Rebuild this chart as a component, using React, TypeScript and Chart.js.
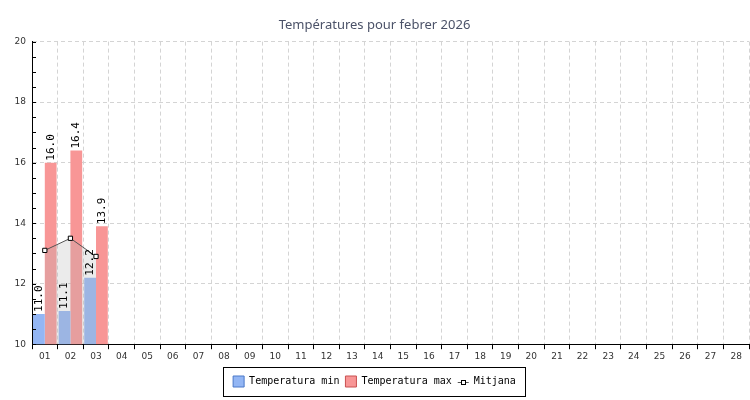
import React, { useEffect, useRef } from "react";
import { Chart, registerables } from "chart.js";

Chart.register(...registerables);

const TITLE = "Températures pour febrer 2026";
const DAYS = ["01","02","03","04","05","06","07","08","09","10","11","12","13","14","15","16","17","18","19","20","21","22","23","24","25","26","27","28"];
const TEMP_MIN = [11.0, 11.1, 12.2, null, null, null, null, null, null, null, null, null, null, null, null, null, null, null, null, null, null, null, null, null, null, null, null, null];
const TEMP_MAX = [16.0, 16.4, 13.9, null, null, null, null, null, null, null, null, null, null, null, null, null, null, null, null, null, null, null, null, null, null, null, null, null];
const TEMP_MEAN = [13.1, 13.5, 12.9, null, null, null, null, null, null, null, null, null, null, null, null, null, null, null, null, null, null, null, null, null, null, null, null, null];
const Y_MIN = 10;
const Y_MAX = 20;
const Y_STEP = 2;
const Y_MINOR = 0.5;

const MONO = "'DejaVu Sans Mono', monospace";

const extrasPlugin = {
  id: "extras",
  afterDatasetsDraw(chart: any) {
    const ctx = chart.ctx;
    ctx.save();
    ctx.font = "11px " + MONO;
    ctx.fillStyle = "#000";
    ctx.textAlign = "left";
    ctx.textBaseline = "middle";
    [0, 1].forEach((di) => {
      const meta = chart.getDatasetMeta(di);
      const data = chart.data.datasets[di].data;
      meta.data.forEach((el: any, i: number) => {
        const v = data[i];
        if (v === null || v === undefined) return;
        ctx.save();
        ctx.translate(el.x, el.y - 2);
        ctx.rotate(-Math.PI / 2);
        ctx.fillText(Number(v).toFixed(1), 0, 0);
        ctx.restore();
      });
    });
    ctx.restore();
  },
  afterDraw(chart: any) {
    const ctx = chart.ctx;
    const y = chart.scales.y;
    const area = chart.chartArea;
    ctx.save();
    ctx.strokeStyle = "#000";
    ctx.lineWidth = 1;
    for (let v = Y_MIN; v <= Y_MAX + 1e-9; v += Y_MINOR) {
      const py = Math.round(y.getPixelForValue(v)) + 0.5;
      ctx.beginPath();
      ctx.moveTo(area.left, py);
      ctx.lineTo(area.left + 4, py);
      ctx.stroke();
    }
    ctx.restore();
    const lg = chart.legend;
    if (lg && lg.legendHitBoxes && lg.legendHitBoxes.length) {
      const hb = lg.legendHitBoxes;
      let l = Infinity, r = -Infinity, t = Infinity, b = -Infinity;
      hb.forEach((h: any) => {
        l = Math.min(l, h.left);
        r = Math.max(r, h.left + h.width);
        t = Math.min(t, h.top);
        b = Math.max(b, h.top + h.height);
      });
      ctx.save();
      ctx.strokeStyle = "#000";
      ctx.lineWidth = 1;
      ctx.strokeRect(Math.round(l - 10) + 0.5, Math.round(t - 9) + 0.5, Math.round(r - l + 19), Math.round(b - t + 18));
      const m = hb[2];
      const cy = Math.round(m.top + m.height / 2) + 0.5;
      const x0 = m.left;
      const bw = lg.options.labels.boxWidth;
      ctx.strokeStyle = "#555";
      ctx.beginPath();
      ctx.moveTo(x0, cy);
      ctx.lineTo(x0 + bw, cy);
      ctx.stroke();
      ctx.fillStyle = "#fff";
      ctx.strokeStyle = "#000";
      const cx = Math.round(x0 + bw / 2) + 0.5;
      ctx.fillRect(cx - 2, cy - 2, 4, 4);
      ctx.strokeRect(cx - 2, cy - 2, 4, 4);
      ctx.restore();
    }
  },
};

export default function App() {
  const ref = useRef<HTMLCanvasElement | null>(null);
  useEffect(() => {
    document.body.style.margin = "0";
    if (!ref.current) return;
    const chart = new Chart(ref.current, {
      type: "bar",
      data: {
        labels: DAYS,
        datasets: [
          {
            type: "bar",
            label: "Temperatura min",
            data: TEMP_MIN,
            backgroundColor: "#93b6f4",
            borderColor: "#4a78c8",
            borderWidth: 0,
            barPercentage: 1,
            categoryPercentage: 0.92,
            order: 1,
          },
          {
            type: "bar",
            label: "Temperatura max",
            data: TEMP_MAX,
            backgroundColor: "#f89696",
            borderColor: "#c85050",
            borderWidth: 0,
            barPercentage: 1,
            categoryPercentage: 0.92,
            order: 2,
          },
          {
            type: "line",
            label: "Mitjana",
            data: TEMP_MEAN,
            borderColor: "#555",
            borderWidth: 1,
            backgroundColor: "rgba(180,180,180,0.27)",
            fill: "start",
            tension: 0,
            pointStyle: "rect",
            pointRadius: 3,
            pointBorderWidth: 1,
            pointBorderColor: "#000",
            pointBackgroundColor: "#fff",
            order: 0,
          } as any,
        ],
      },
      options: {
        responsive: false,
        animation: false,
        layout: { autoPadding: false, padding: { left: 0, right: 1, top: 0, bottom: 3 } },
        plugins: {
          title: {
            display: true,
            text: TITLE,
            color: "#4b5268",
            font: { family: "'Noto Sans', sans-serif", size: 13, weight: "normal" },
            padding: { top: 17, bottom: 9 },
          },
          tooltip: { enabled: false },
          legend: {
            position: "bottom",
            labels: {
              font: { family: MONO, size: 10 },
              color: "#000",
              boxWidth: 11,
              boxHeight: 11,
              padding: 6,
              generateLabels: (chart: any) => {
                const ds = chart.data.datasets;
                return [
                  { text: ds[0].label, fillStyle: "#93b6f4", strokeStyle: "#4a78c8", lineWidth: 1, datasetIndex: 0, fontColor: "#000" },
                  { text: ds[1].label, fillStyle: "#f89696", strokeStyle: "#c85050", lineWidth: 1, datasetIndex: 1, fontColor: "#000" },
                  { text: ds[2].label, fillStyle: "rgba(0,0,0,0)", strokeStyle: "rgba(0,0,0,0)", lineWidth: 0, datasetIndex: 2, fontColor: "#000" },
                ];
              },
            },
          },
        },
        scales: {
          x: {
            grid: {
              offset: true,
              color: "#d4d4d4",
              tickColor: "#000",
              tickLength: 5,
              tickBorderDash: [],
            },
            border: { color: "#000", dash: [4, 3] },
            ticks: {
              color: "#333",
              font: { family: "'DejaVu Sans', sans-serif", size: 9 },
              padding: 2,
              maxRotation: 0,
              autoSkip: false,
            },
            afterFit: (scale: any) => {
              scale.height += 6;
              scale.paddingLeft = 0;
              scale.paddingRight = 0;
            },
          },
          y: {
            min: Y_MIN,
            max: Y_MAX,
            grid: { color: "#d4d4d4", drawTicks: false },
            border: { color: "#000", dash: [4, 3] },
            ticks: {
              stepSize: Y_STEP,
              color: "#333",
              font: { family: "'DejaVu Sans', sans-serif", size: 9 },
              padding: 6,
            },
            afterFit: (scale: any) => {
              scale.width = 32;
            },
          },
        },
      },
      plugins: [extrasPlugin],
    } as any);
    return () => chart.destroy();
  }, []);
  return (
    <div style={{ width: 750, height: 400 }}>
      <canvas ref={ref} width={750} height={400} style={{ width: 750, height: 400, display: "block" }} />
    </div>
  );
}
